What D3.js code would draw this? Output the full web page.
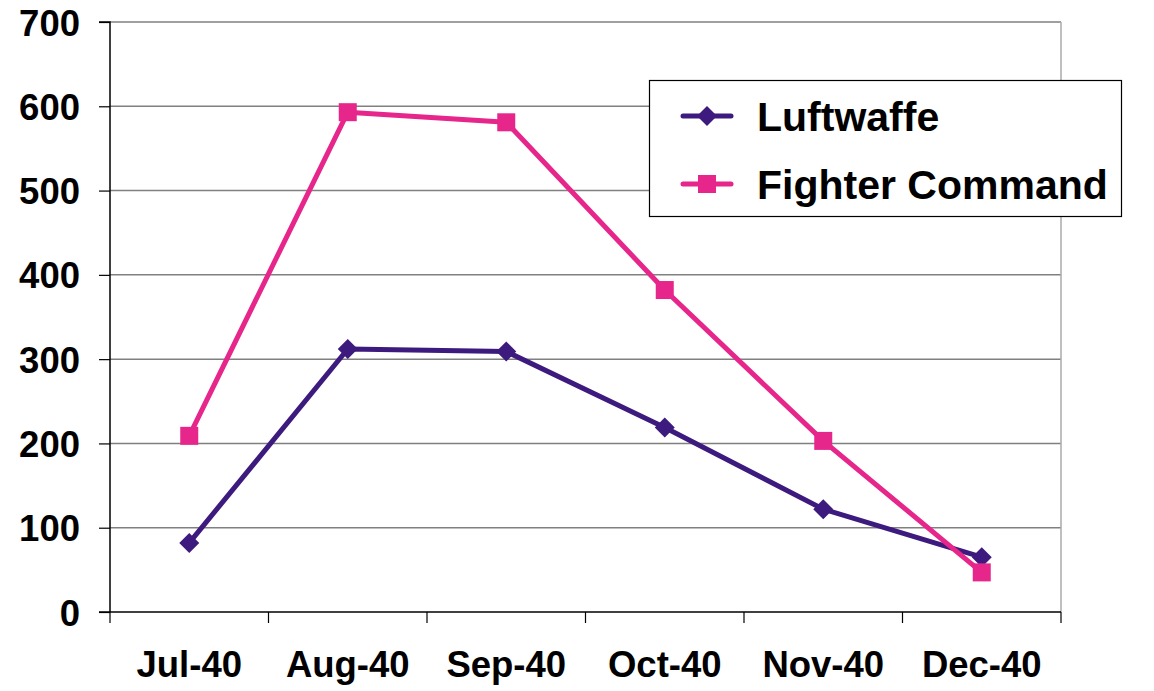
<!DOCTYPE html>
<html><head><meta charset="utf-8">
<script src="https://cdn.jsdelivr.net/npm/d3@7"></script>
<style>body{margin:0;background:#fff}svg{display:block}text{font-family:"Liberation Sans",Arial,sans-serif;font-weight:bold}</style>
</head><body><svg id="c" width="1154" height="691"></svg>
<script>
const categories = ["Jul-40","Aug-40","Sep-40","Oct-40","Nov-40","Dec-40"];
const luftwaffe = [82, 312, 309, 219, 122, 65];
const fighterCommand = [209, 593, 581, 382, 203, 47];
const yTicks = [0,100,200,300,400,500,600,700];
const seriesNames = ["Luftwaffe","Fighter Command"];
const colors = ["#3d1a7e","#e6268a"];

const svg = d3.select("#c");
const L=110, R=1061, T=22, B=612;
const x = d3.scaleBand().domain(categories).range([L,R]);
const y = d3.scaleLinear().domain([0,700]).range([B,T]);

// gridlines
svg.append("g").selectAll("line").data(yTicks.filter(d=>d>0)).join("line")
  .attr("x1",L).attr("x2",R).attr("y1",d=>y(d)).attr("y2",d=>y(d))
  .attr("stroke","#808080").attr("stroke-width",1.5);
// right border
svg.append("line").attr("x1",R).attr("x2",R).attr("y1",T).attr("y2",B).attr("stroke","#aaa").attr("stroke-width",1.5);

// y axis
const ya = svg.append("g").attr("transform",`translate(${L},0)`)
  .call(d3.axisLeft(y).tickValues(yTicks).tickSize(11).tickPadding(19));
ya.select(".domain").attr("stroke","#000").attr("stroke-width",1.5).attr("d",`M-11,${T}H0V${B}`);
ya.selectAll(".tick line").attr("stroke","#000").attr("stroke-width",1.2);
ya.selectAll("text").attr("font-size",36.5).attr("fill","#000").attr("font-family","Liberation Sans, Arial, sans-serif").attr("font-weight","bold").attr("dy","0.36em");

// x axis
const xa = svg.append("g").attr("transform",`translate(0,${B})`)
  .call(d3.axisBottom(x).tickSize(0).tickPadding(39));
xa.select(".domain").remove();
xa.selectAll("text").attr("font-size",36.5).attr("fill","#000").attr("font-family","Liberation Sans, Arial, sans-serif").attr("font-weight","bold");
svg.append("line").attr("x1",L-11).attr("x2",R).attr("y1",B).attr("y2",B).attr("stroke","#000").attr("stroke-width",1.5);
const bounds = categories.map(c=>x(c)).concat([R]);
svg.append("g").selectAll("line").data(bounds).join("line")
  .attr("x1",d=>d).attr("x2",d=>d).attr("y1",B).attr("y2",B+11).attr("stroke","#000").attr("stroke-width",1.2);

const cx = c => x(c)+x.bandwidth()/2;
const line = d3.line().x((d,i)=>cx(categories[i])).y(d=>y(d));
const data = [luftwaffe, fighterCommand];
data.forEach((s,k)=>{
  svg.append("path").attr("d",line(s)).attr("fill","none").attr("stroke",colors[k]).attr("stroke-width",5).attr("stroke-linejoin","round");
});
// markers
const diamond = (g,px,py,c)=>g.append("path").attr("d",`M${px},${py-10}L${px+10},${py}L${px},${py+10}L${px-10},${py}Z`).attr("fill",c);
const square = (g,px,py,c)=>g.append("rect").attr("x",px-9).attr("y",py-9).attr("width",18).attr("height",18).attr("fill",c);
luftwaffe.forEach((v,i)=>diamond(svg,cx(categories[i]),y(v),colors[0]));
fighterCommand.forEach((v,i)=>square(svg,cx(categories[i]),y(v),colors[1]));

// legend
const lg = svg.append("g");
lg.append("rect").attr("x",649.5).attr("y",80.5).attr("width",472).attr("height",136).attr("fill","#fff").attr("stroke","#000").attr("stroke-width",1.2);
const ly=[116,184];
seriesNames.forEach((n,k)=>{
  lg.append("line").attr("x1",683).attr("x2",731).attr("y1",ly[k]).attr("y2",ly[k]).attr("stroke",colors[k]).attr("stroke-width",5).attr("stroke-linecap","round");
  if(k===0) diamond(lg,707,ly[k],colors[k]); else square(lg,707,ly[k],colors[k]);
  lg.append("text").attr("x",757).attr("y",ly[k]).attr("dy","0.36em").attr("font-size",41).attr("fill","#000").text(n);
});
</script></body></html>
